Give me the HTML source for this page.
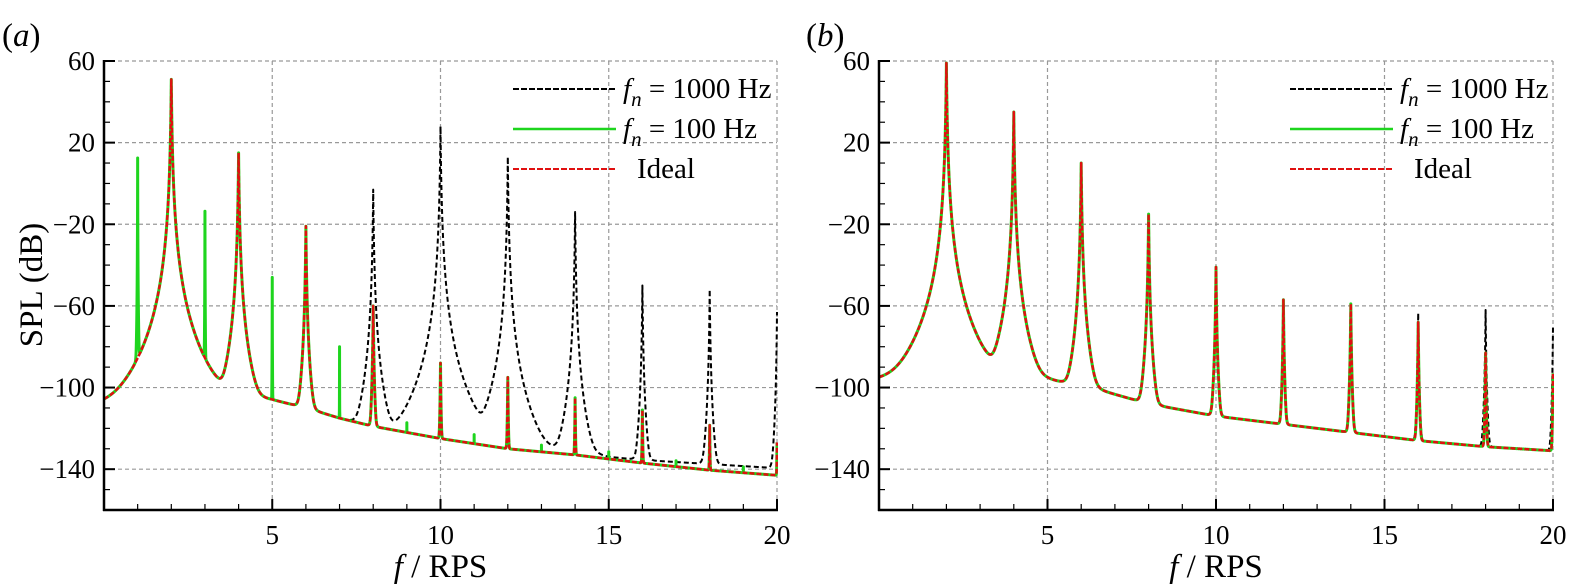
<!DOCTYPE html>
<html><head><meta charset="utf-8"><style>
html,body{margin:0;padding:0;background:#fff;}
svg{display:block;font-family:"Liberation Serif",serif;}
</style></head><body>
<svg id="fig" width="1575" height="585" viewBox="0 0 1575 585" font-family="'Liberation Serif', serif"></svg>
<script>
// ---- data ----
const xTicks = [5, 10, 15, 20];
const yTicks = [60, 20, -20, -60, -100, -140];
const harmonics = [2, 4, 6, 8, 10, 12, 14, 16, 18, 20];
// Panel (a)
const aBaseF = [0, 3, 5, 6, 7, 8, 10, 12, 14, 15, 16, 18, 20];
const aBaseIdeal = [-108, -101, -106, -110, -115, -119, -125, -130, -133, -135, -137, -140.5, -143];
const aBaseBlack = [-108, -101, -106, -110, -115, -119, -125, -130, -131, -134, -135.5, -137.5, -139.5];
const aIdealPeaks = [51, 15, -21, -60, -88, -95, -105, -111, -118.5, -127];
const aBlackPeaks = [51, 15, -21, -3, 28, 13, -14, -50, -52, -63];
const aGreenOddF = [1, 3, 5, 7, 9, 11, 13, 15, 17, 19];
const aGreenOddPeaks = [12.5, -13.6, -46, -80, -119, -125, -131, -134, -139, -142];
// Panel (b)
const bBaseF = [0, 3, 5, 6.5, 8, 10, 12, 14, 16, 18, 20];
const bBase = [-96, -90, -96, -101, -108, -114, -118, -122, -126, -129, -131];
const bIdealPeaks = [59, 35, 10, -15, -41, -57, -59, -68, -83, -93];
const bBlackPeaks = [59, 35, 10, -15, -41, -57, -59, -63.5, -62, -70];

const NS = "http://www.w3.org/2000/svg";
const FONT = "'Liberation Serif', serif";
const svg = document.getElementById('fig');
function mk(tag, attrs, parent){const e=document.createElementNS(NS,tag);for(const k in attrs)e.setAttribute(k,attrs[k]);if(tag==='text')e.setAttribute('font-family',FONT);(parent||svg).appendChild(e);return e;}

function interp(fs, vs, f){
  if(f<=fs[0])return vs[0];
  for(let i=1;i<fs.length;i++){ if(f<=fs[i]){const t=(f-fs[i-1])/(fs[i]-fs[i-1]);return vs[i-1]+t*(vs[i]-vs[i-1]);} }
  return vs[vs.length-1];
}
const K=80;
function level(f, baseF, baseV, peakSets){
  let p=Math.pow(10, interp(baseF,baseV,f)/10);
  for(const ps of peakSets){
    for(let i=0;i<ps.f.length;i++){
      const d=Math.abs(f-ps.f[i]);
      const L=ps.v[i]-K*Math.log10(1+d/ps.w);
      p+=Math.pow(10,L/10);
    }
  }
  return 10*Math.log10(p);
}
function sampleFreqs(extra){
  const s=[];
  for(let f=0;f<=20.0001;f+=0.005)s.push(+f.toFixed(4));
  for(const e of extra){for(const o of [-0.004,-0.002,-0.001,0,0.001,0.002,0.004]){const v=e+o;if(v>=0&&v<=20)s.push(v);}}
  s.sort((a,b)=>a-b);
  return s;
}

function panel(cfg){
  const g=mk('g',{});  
  const X0=cfg.x0, X1=cfg.x1, Y0=61, Y1=510;
  const sx=f=>X0+(f/20)*(X1-X0);
  const sy=v=>Y0+(60-v)/220*(Y1-Y0);
  const grid=mk('g',{},g);  
  for(const t of xTicks){const l=mk('line',{x1:sx(t),x2:sx(t),y1:Y0,y2:Y1,stroke:'#999','stroke-width':1.2,'stroke-dasharray':'4,3'},grid);}
  for(const t of yTicks){const l=mk('line',{x1:X0,x2:X1,y1:sy(t),y2:sy(t),stroke:'#999','stroke-width':1.2,'stroke-dasharray':'4,3'},grid);}
  const clip=mk('clipPath',{id:'clip'+cfg.id},g); mk('rect',{x:X0,y:Y0-5,width:X1-X0+1,height:Y1-Y0+5},clip);
  const sg=mk('g',{'clip-path':'url(#clip'+cfg.id+')'},g);
  for(const s of cfg.series){
    const fs=sampleFreqs(cfg.extra);
    let d='';
    fs.forEach((f,i)=>{const v=level(f,s.baseF,s.baseV,s.peaks);d+=(i?'L':'M')+sx(f).toFixed(2)+','+sy(v).toFixed(2);});
    const p=mk('path',{d:d,fill:'none',stroke:s.color,'stroke-width':s.sw,'stroke-dasharray':s.dash||'none','stroke-linejoin':'round'},sg);
    
    
  }
  const ax=mk('g',{},g);  
  mk('line',{x1:X0,x2:X0,y1:Y0-1,y2:Y1+1,stroke:'#000','stroke-width':2.5},ax);
  mk('line',{x1:X0-1,x2:X1+1,y1:Y1,y2:Y1,stroke:'#000','stroke-width':2.5},ax);
  for(let v=-160;v<=60;v+=10){const maj=yTicks.includes(v);mk('line',{x1:X0,x2:X0+(maj?11:6),y1:sy(v),y2:sy(v),stroke:'#000','stroke-width':maj?2:1.2},ax);}
  for(let f=1;f<=20;f++){const maj=xTicks.includes(f);mk('line',{x1:sx(f),x2:sx(f),y1:Y1,y2:Y1-(maj?11:6),stroke:'#000','stroke-width':maj?2:1.2},ax);}
  for(const t of yTicks){const tx=mk('text',{x:X0-9,y:sy(t)+9,'text-anchor':'end','font-size':27},ax);tx.textContent=(t<0?'\u2212':'')+Math.abs(t);}
  for(const t of xTicks){const tx=mk('text',{x:sx(t),y:Y1+34,'text-anchor':'middle','font-size':27},ax);tx.textContent=t;}
  const xt=mk('text',{x:(X0+X1)/2,y:Y1+67,'text-anchor':'middle','font-size':33},ax);
  xt.innerHTML='<tspan font-style="italic">f</tspan> / RPS';
   
  const pl=mk('text',{x:cfg.lx,y:46,'font-size':33},g); pl.innerHTML='(<tspan font-style="italic">'+cfg.id+'</tspan>)';
   
  const lg=mk('g',{},g);  
  const items=[['#000','6,2',2,'1000 Hz',true],['#1ed51e','none',2.5,'100 Hz',true],['#e01010','6,2',2,'Ideal',false]];
  items.forEach((it,i)=>{
    const y=cfg.ly+i*40;
    const e=mk('g',{},lg);  
    mk('line',{x1:cfg.legX,x2:cfg.legX+103,y1:y,y2:y,stroke:it[0],'stroke-width':it[2],'stroke-dasharray':it[1]},e);
    const t=mk('text',{x:cfg.legX+(it[4]?110:124),y:y+9,'font-size':29},e);
    t.innerHTML=it[4]?'<tspan font-style="italic">f</tspan><tspan font-style="italic" font-size="21" dy="8">n</tspan><tspan dy="-8"> = '+it[3]+'</tspan>':it[3];
  });
}

panel({id:'a',name:'panel-a',x0:104,x1:777,lx:2,legX:513,ly:89,extra:harmonics.concat(aGreenOddF),
  series:[
    {name:'series-fn-1000hz',color:'#000',sw:2,dash:'5,3',baseF:aBaseF,baseV:aBaseBlack,peaks:[{f:harmonics,v:aBlackPeaks,w:0.02}]},
    {name:'series-fn-100hz',color:'#1ed51e',sw:3,baseF:aBaseF,baseV:aBaseIdeal,peaks:[{f:harmonics,v:aIdealPeaks,w:0.02},{f:aGreenOddF,v:aGreenOddPeaks,w:0.003}]},
    {name:'series-ideal',color:'#e01010',sw:2.5,dash:'5,2',baseF:aBaseF,baseV:aBaseIdeal,peaks:[{f:harmonics,v:aIdealPeaks,w:0.02}]}
  ]});
panel({id:'b',name:'panel-b',x0:879,x1:1553,lx:806,legX:1290,ly:89,extra:harmonics,
  series:[
    {name:'series-fn-1000hz',color:'#000',sw:2,dash:'5,3',baseF:bBaseF,baseV:bBase,peaks:[{f:harmonics,v:bBlackPeaks,w:0.02}]},
    {name:'series-fn-100hz',color:'#1ed51e',sw:3,baseF:bBaseF,baseV:bBase,peaks:[{f:harmonics,v:bIdealPeaks,w:0.02}]},
    {name:'series-ideal',color:'#e01010',sw:2.5,dash:'5,2',baseF:bBaseF,baseV:bBase,peaks:[{f:harmonics,v:bIdealPeaks,w:0.02}]}
  ]});

const yl=mk('text',{x:0,y:0,'font-size':33,'text-anchor':'middle',transform:'translate(42,285) rotate(-90)'});
yl.textContent='SPL (dB)';


</script>
</body></html>
